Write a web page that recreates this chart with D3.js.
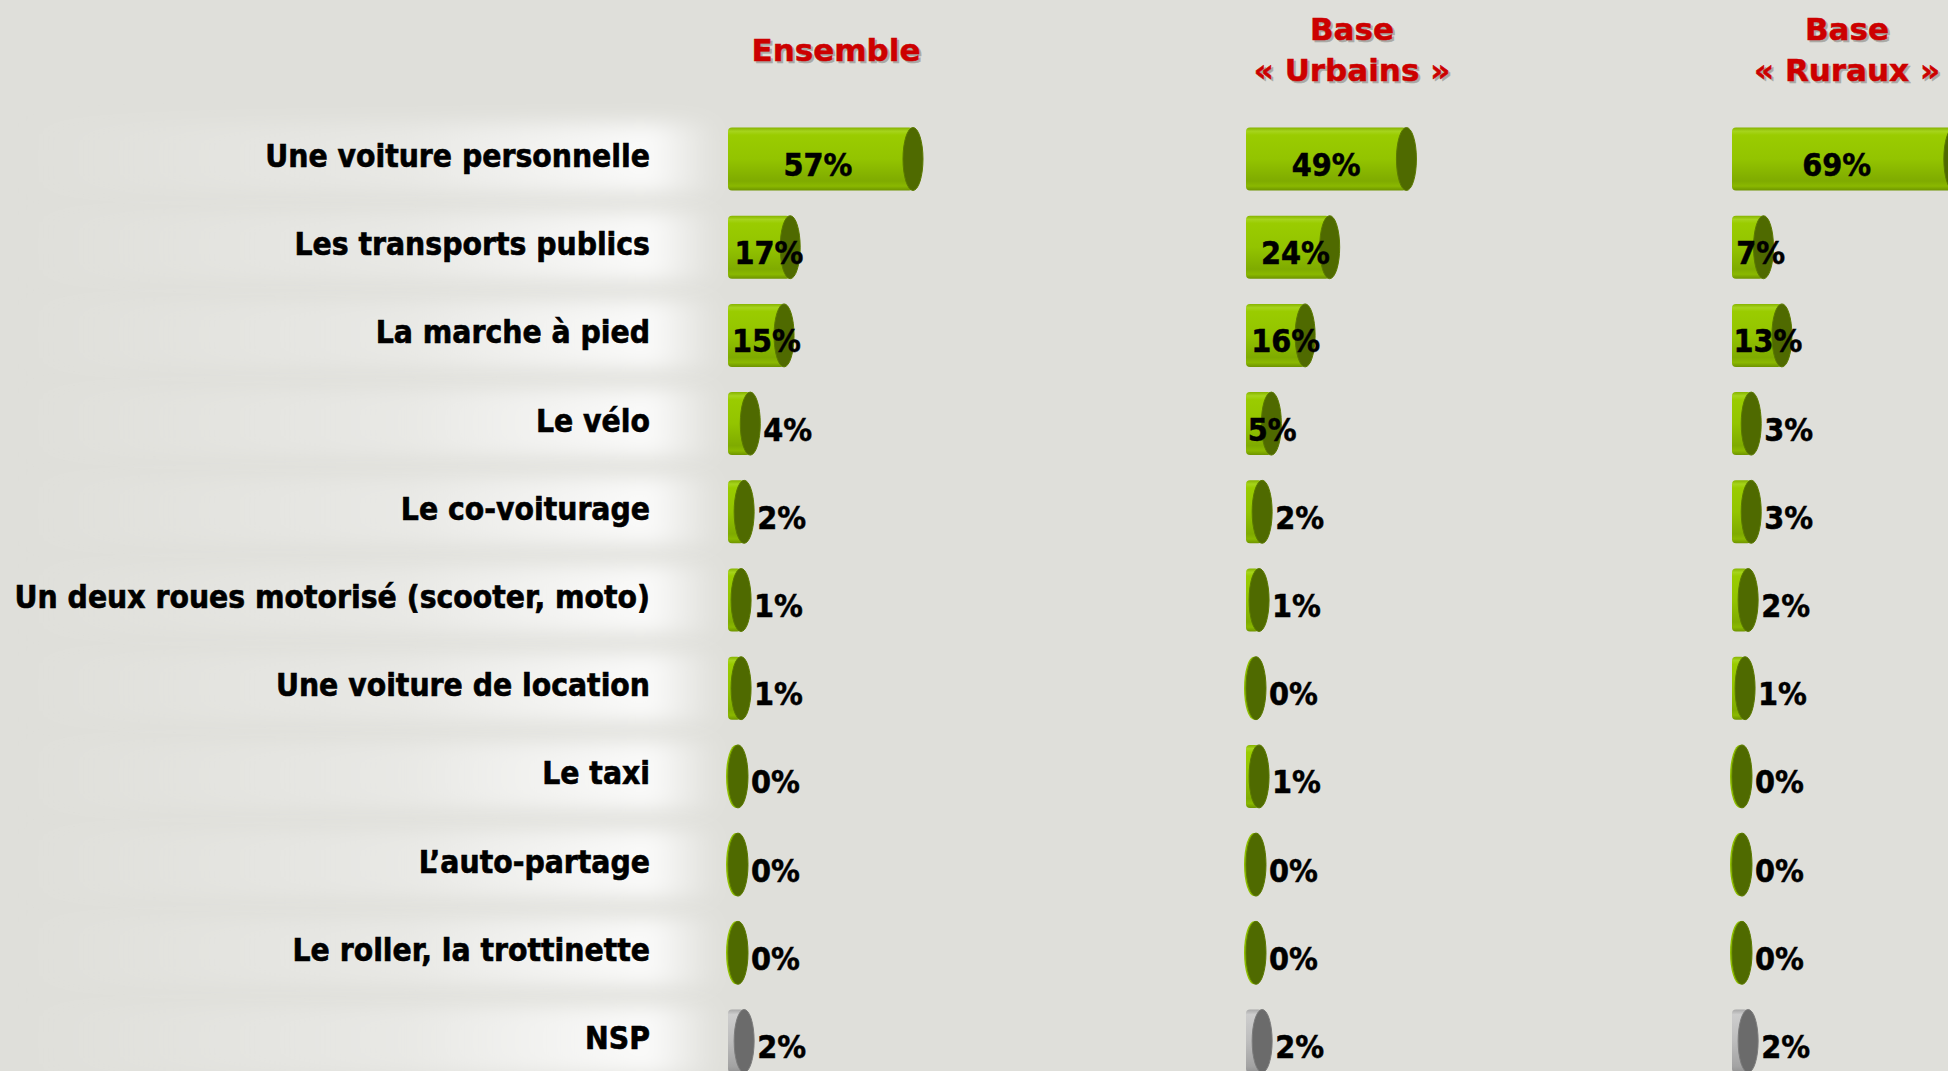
<!DOCTYPE html>
<html>
<head>
<meta charset="utf-8">
<script src="https://cdn.jsdelivr.net/npm/d3@7"></script>
<style>
  html, body { margin: 0; padding: 0; background: #dfdfda; overflow: hidden; }
  svg { display: block; }
</style>
</head>
<body>
<svg id="chart"></svg>
<script>
// answers, one row per mode of transport
const categories = [
  "Une voiture personnelle",
  "Les transports publics",
  "La marche à pied",
  "Le vélo",
  "Le co-voiturage",
  "Un deux roues motorisé (scooter, moto)",
  "Une voiture de location",
  "Le taxi",
  "L\u2019auto-partage",
  "Le roller, la trottinette",
  "NSP"
];
const ensemble = [57, 17, 15, 4, 2, 1, 1, 0, 0, 0, 2];
const urbains = [49, 24, 16, 5, 2, 1, 0, 1, 0, 0, 2];
const ruraux = [69, 7, 13, 3, 3, 2, 1, 0, 0, 0, 2];
const columnTitles = [["Ensemble"], ["Base", "\u00ab Urbains \u00bb"], ["Base", "\u00ab Ruraux \u00bb"]];

const width = 1948, height = 1071;
const svg = d3.select("#chart").attr("width", width).attr("height", height);

// column layout: where each block of cylinders starts, and where its title sits
const columns = [
  { values: ensemble, x0: 728, titleX: 836 },
  { values: urbains, x0: 1246, titleX: 1352 },
  { values: ruraux, x0: 1732, titleX: 1847 }
];

const x = d3.scaleLinear().domain([0, 100]).range([0, 307]);
const y = d3.scalePoint().domain(categories).range([159, 1041]);
const capRx = 10, barH = 63;
const font = "'DejaVu Sans Condensed', 'DejaVu Sans', sans-serif";

const defs = svg.append("defs");

// green cylinder body, light on top and darker underneath
function bodyGradient(id, stops) {
  const g = defs.append("linearGradient").attr("id", id)
    .attr("x1", 0).attr("y1", 0).attr("x2", 0).attr("y2", 1);
  stops.forEach(s => g.append("stop").attr("offset", s[0]).attr("stop-color", s[1]));
}
bodyGradient("greenBody", [[0, "#86b300"], [0.06, "#a6d41c"], [0.12, "#9acc00"], [0.5, "#93c400"], [0.85, "#7fab00"], [0.93, "#8ab800"], [1, "#6e9400"]]);
bodyGradient("greyBody", [[0, "#a8a8a8"], [0.08, "#cdcdcd"], [0.5, "#bdbdbd"], [0.9, "#a3a3a3"], [1, "#939393"]]);

// soft white glow behind each label
const glow = defs.append("linearGradient").attr("id", "glow");
glow.append("stop").attr("offset", 0).attr("stop-color", "#fff").attr("stop-opacity", 0);
glow.append("stop").attr("offset", 0.55).attr("stop-color", "#fff").attr("stop-opacity", 0.3);
glow.append("stop").attr("offset", 0.9).attr("stop-color", "#fff").attr("stop-opacity", 0.85);
glow.append("stop").attr("offset", 1).attr("stop-color", "#fff").attr("stop-opacity", 0);
defs.append("filter").attr("id", "blur").attr("x", "-20%").attr("y", "-50%")
  .attr("width", "140%").attr("height", "200%")
  .append("feGaussianBlur").attr("stdDeviation", 10);

svg.append("rect").attr("width", width).attr("height", height).attr("fill", "#dfdfda");

svg.append("g").selectAll("rect")
  .data(categories)
  .join("rect")
  .attr("x", 20)
  .attr("y", d => y(d) - 36)
  .attr("width", 700)
  .attr("height", 70)
  .attr("fill", "url(#glow)")
  .attr("filter", "url(#blur)");

// row labels
svg.append("g").selectAll("text")
  .data(categories)
  .join("text")
  .attr("x", 650)
  .attr("y", d => y(d) - 3)
  .attr("text-anchor", "end")
  .attr("dominant-baseline", "central")
  .style("font-family", font)
  .style("font-weight", "bold")
  .style("font-size", "31.5px")
  .attr("fill", "#000")
  .attr("stroke", "#000")
  .attr("stroke-width", 0.6)
  .text(d => d);

// column titles, red with a faint drop shadow
columns.forEach((col, i) => {
  const lines = columnTitles[i];
  const top = lines.length === 1 ? 50 : 29;
  const g = svg.append("g");
  [["#a9a9a4", 2], ["#cc0000", 0]].forEach(([fill, off]) => {
    g.selectAll(null)
      .data(lines)
      .join("text")
      .attr("x", col.titleX + off)
      .attr("y", (d, j) => top + j * 41 + off)
      .attr("text-anchor", "middle")
      .attr("dominant-baseline", "central")
      .style("font-family", "'DejaVu Sans', sans-serif")
      .style("font-weight", "bold")
      .style("font-size", "31px")
      .attr("fill", fill)
      .attr("stroke", fill)
      .attr("stroke-width", 0.5)
      .text(d => d);
  });
});

// cylinders
columns.forEach(col => {
  const g = svg.append("g");
  const rows = categories.map((c, i) => ({ cat: c, v: col.values[i], nsp: c === "NSP" }));
  rows.forEach(d => {
    const cy = y(d.cat);
    const len = x(d.v);
    const xc = col.x0 + capRx + len;
    const total = len + 2 * capRx;
    if (len > 0) {
      g.append("rect")
        .attr("x", col.x0)
        .attr("y", cy - barH / 2)
        .attr("width", xc - col.x0)
        .attr("height", barH)
        .attr("rx", 4)
        .attr("fill", d.nsp ? "url(#greyBody)" : "url(#greenBody)");
    } else {
      // a flat disc still shows a sliver of its side
      g.append("ellipse")
        .attr("cx", xc - 2).attr("cy", cy)
        .attr("rx", capRx).attr("ry", barH / 2)
        .attr("fill", d.nsp ? "#bdbdbd" : "#8fbf00");
    }
    g.append("ellipse")
      .attr("cx", xc).attr("cy", cy)
      .attr("rx", capRx).attr("ry", barH / 2)
      .attr("fill", d.nsp ? "#6b6b6b" : "#4f6a00")
      .attr("stroke", d.nsp ? "#7c7c7c" : "#5b7a00")
      .attr("stroke-width", 1);

    const inside = d.v >= 5;
    g.append("text")
      .attr("x", inside ? col.x0 + 0.4 * total + 12 : col.x0 + total + 3)
      .attr("y", cy + 6)
      .attr("text-anchor", inside ? "middle" : "start")
      .attr("dominant-baseline", "central")
      .style("font-family", font)
      .style("font-weight", "bold")
      .style("font-size", "32px")
      .attr("fill", "#000")
      .attr("stroke", "#000")
      .attr("stroke-width", 0.5)
      .text(d.v + "%");
  });
});
</script>
</body>
</html>
